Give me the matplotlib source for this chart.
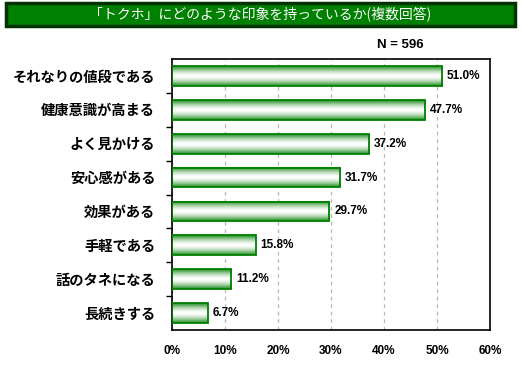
import numpy as np
import matplotlib.pyplot as plt
from matplotlib.patches import Rectangle
from matplotlib.colors import to_rgb

plt.rcParams['font.family'] = ['Noto Sans CJK JP', 'DejaVu Sans']

# data
categories = ['それなりの値段である', '健康意識が高まる', 'よく見かける', '安心感がある',
              '効果がある', '手軽である', '話のタネになる', '長続きする']
values = [51.0, 47.7, 37.2, 31.7, 29.7, 15.8, 11.2, 6.7]
xticks = [0, 10, 20, 30, 40, 50, 60]
title = '「トクホ」にどのような印象を持っているか(複数回答)'
n_label = 'N = 596'

green = '#008000'

fig = plt.figure(figsize=(5.21, 3.65), dpi=100)
fig.patch.set_facecolor('white')

# title banner
fig.patches.append(Rectangle((6 / 521, 1 - 26 / 365), 509 / 521, 23 / 365,
                             transform=fig.transFigure, facecolor=green,
                             edgecolor='#003300', linewidth=2.5, zorder=0))
fig.text(0.5, 1 - 14.5 / 365, title, color='white', fontsize=10,
         ha='center', va='center')
fig.text(400 / 521, 1 - 45 / 365, n_label, fontsize=9.5, fontweight='bold',
         family='Liberation Sans', ha='center', va='center')

ax = fig.add_axes([172 / 521, 1 - 330 / 365, 318 / 521, 271 / 365])

# vertical gradient profile: green at edges, white in the middle
t = np.linspace(0, 1, 64)
w = np.clip(np.abs(t - 0.5) * 2, 0, 1) ** 1.6
g = np.array(to_rgb('#1a8a1a'))
grad = (1 - w)[:, None] * np.ones(3) + w[:, None] * g
grad = grad[:, None, :]

h = 0.58
y = np.arange(len(categories))
for yi, v in zip(y, values):
    ax.imshow(grad, extent=[0, v, yi + h / 2, yi - h / 2], aspect='auto',
              interpolation='bilinear', zorder=2)
ax.barh(y, values, height=h, facecolor='none', edgecolor=green,
        linewidth=1.3, zorder=3)

for yi, v in zip(y, values):
    ax.text(v + 0.9, yi, f'{v:.1f}%', va='center', ha='left', fontsize=8.5,
            fontweight='bold', family='Liberation Sans', zorder=4)

ax.set_xlim(0, 60)
ax.set_ylim(len(categories) - 0.5, -0.5)
ax.set_xticks(xticks)
ax.set_xticklabels([f'{x}%' for x in xticks], fontsize=8.5, fontweight='bold',
                   family='Liberation Sans')
ax.tick_params(axis='x', length=0, pad=11)
ax.set_yticks(y)
ax.set_yticklabels(categories, fontsize=10.3, fontweight='bold')
ax.tick_params(axis='y', which='major', length=0, pad=12)
ax.set_yticks(np.arange(0.5, len(categories) - 1, 1), minor=True)
ax.tick_params(axis='y', which='minor', length=4, direction='out', width=1)

ax.grid(axis='x', color='#b8b8b8', linestyle=(0, (3, 3)), linewidth=0.9, zorder=1)
ax.set_axisbelow(True)
for s in ax.spines.values():
    s.set_linewidth(1.2)
    s.set_color('black')

fig.savefig('out.png', dpi=100)
